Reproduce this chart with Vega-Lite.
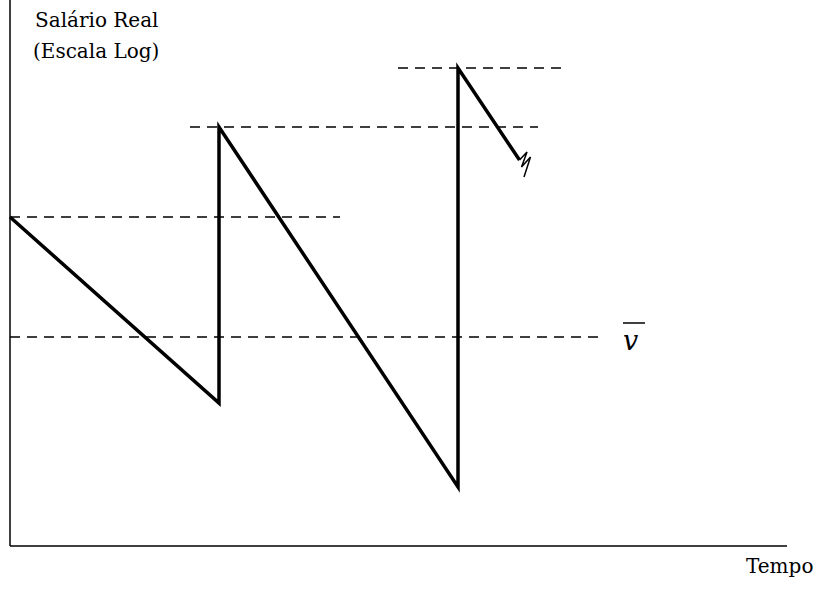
{
  "$schema": "https://vega.github.io/schema/vega-lite/v6.json",
  "width": 820,
  "height": 589,
  "padding": 0,
  "autosize": {"type": "none"},
  "background": "white",
  "config": {"view": {"stroke": null}},
  "datasets": {
    "salario": [
      {"o": 1, "tempo": 0, "salario": 329},
      {"o": 2, "tempo": 209, "salario": 143},
      {"o": 3, "tempo": 209, "salario": 419},
      {"o": 4, "tempo": 448, "salario": 59},
      {"o": 5, "tempo": 448, "salario": 478},
      {"o": 6, "tempo": 509.5, "salario": 386}
    ],
    "quebra": [
      {"o": 1, "tempo": 509.5, "salario": 386},
      {"o": 2, "tempo": 517, "salario": 394},
      {"o": 3, "tempo": 511.5, "salario": 379},
      {"o": 4, "tempo": 520.5, "salario": 389},
      {"o": 5, "tempo": 514, "salario": 369}
    ],
    "referencias": [
      {"linha": "pico1", "inicio": 0, "fim": 330, "nivel": 329},
      {"linha": "pico2", "inicio": 180, "fim": 528, "nivel": 419},
      {"linha": "pico3", "inicio": 388, "fim": 551, "nivel": 478},
      {"linha": "media", "inicio": 0, "fim": 588, "nivel": 209}
    ],
    "eixos": [
      {"eixo": "y", "x1": 0, "x2": 0, "y1": 0, "y2": 546},
      {"eixo": "x", "x1": 0, "x2": 777, "y1": 0, "y2": 0}
    ],
    "barra": [
      {"inicio": 613, "fim": 635, "nivel": 223}
    ],
    "rotulos": [
      {"texto": "Salário Real", "tempo": 25, "salario": 519},
      {"texto": "(Escala Log)", "tempo": 23, "salario": 488},
      {"texto": "Tempo", "tempo": 736, "salario": -27}
    ],
    "v": [
      {"texto": "v", "tempo": 613, "salario": 196}
    ]
  },
  "layer": [
    {
      "data": {"name": "eixos"},
      "mark": {"type": "rule", "color": "black", "strokeWidth": 1.5},
      "encoding": {
        "x": {"field": "x1", "type": "quantitative", "scale": {"domain": [-10, 810], "nice": false, "zero": false}, "axis": null},
        "x2": {"field": "x2"},
        "y": {"field": "y1", "type": "quantitative", "scale": {"domain": [-43, 546], "nice": false, "zero": false}, "axis": null},
        "y2": {"field": "y2"}
      }
    },
    {
      "data": {"name": "referencias"},
      "mark": {"type": "rule", "color": "black", "strokeWidth": 1.5, "strokeDash": [10, 7]},
      "encoding": {
        "x": {"field": "inicio", "type": "quantitative"},
        "x2": {"field": "fim"},
        "y": {"field": "nivel", "type": "quantitative"}
      }
    },
    {
      "data": {"name": "salario"},
      "mark": {"type": "line", "color": "black", "strokeWidth": 3.5, "strokeJoin": "miter", "strokeCap": "butt"},
      "encoding": {
        "x": {"field": "tempo", "type": "quantitative"},
        "y": {"field": "salario", "type": "quantitative"},
        "order": {"field": "o"}
      }
    },
    {
      "data": {"name": "quebra"},
      "mark": {"type": "line", "color": "black", "strokeWidth": 1.5},
      "encoding": {
        "x": {"field": "tempo", "type": "quantitative"},
        "y": {"field": "salario", "type": "quantitative"},
        "order": {"field": "o"}
      }
    },
    {
      "data": {"name": "barra"},
      "mark": {"type": "rule", "color": "black", "strokeWidth": 1.5},
      "encoding": {
        "x": {"field": "inicio", "type": "quantitative"},
        "x2": {"field": "fim"},
        "y": {"field": "nivel", "type": "quantitative"}
      }
    },
    {
      "data": {"name": "rotulos"},
      "mark": {"type": "text", "align": "left", "baseline": "alphabetic", "font": "DejaVu Serif", "fontSize": 20, "color": "black"},
      "encoding": {
        "x": {"field": "tempo", "type": "quantitative"},
        "y": {"field": "salario", "type": "quantitative"},
        "text": {"field": "texto"}
      }
    },
    {
      "data": {"name": "v"},
      "mark": {"type": "text", "align": "left", "baseline": "alphabetic", "font": "DejaVu Serif", "fontSize": 27, "fontStyle": "italic", "color": "black"},
      "encoding": {
        "x": {"field": "tempo", "type": "quantitative"},
        "y": {"field": "salario", "type": "quantitative"},
        "text": {"field": "texto"}
      }
    }
  ]
}
